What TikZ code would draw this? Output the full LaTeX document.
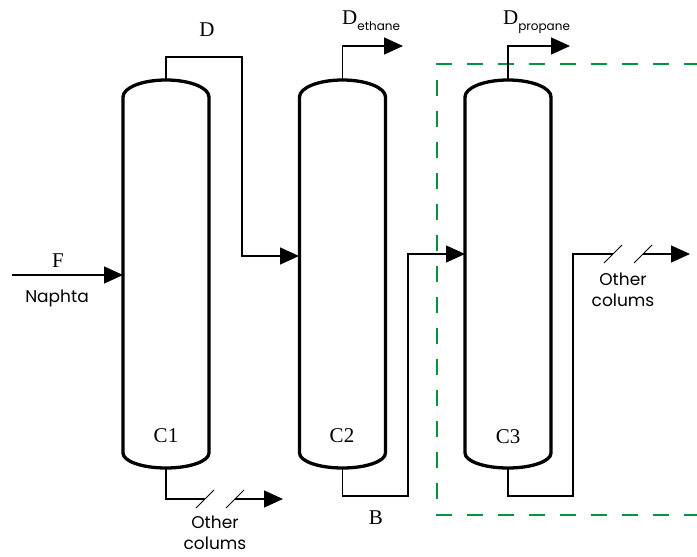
\documentclass[tikz,border=0pt]{standalone}
\usepackage{fontspec}
\setmainfont{Liberation Serif}
\newfontfamily\labelsans{Poppins}
\usetikzlibrary{arrows.meta,calc}

\definecolor{boxgreen}{RGB}{0,148,62}

\tikzset{
  column/.style={line width=3.3pt, line join=round},
  pipe/.style={line width=1.4pt},
  flow/.style={pipe, -{Triangle[length=19pt,width=17pt]}},
  breakmark/.style={line width=1pt},
  seriflabel/.style={font=\fontsize{21}{23}\selectfont, inner sep=0pt},
  sanslabel/.style={font=\labelsans\fontsize{17}{21}\selectfont, inner sep=0pt, align=center},
  boundary/.style={draw=boxgreen, line width=2.3pt, dash pattern=on 16pt off 15pt},
}

% distillation column: name, centre x
\newcommand\distcolumn[2]{%
  \draw[column] (#2-43,453) -- (#2-43,97)
    arc[start angle=180, end angle=0, x radius=43pt, y radius=17pt]
    -- (#2+43,453)
    arc[start angle=0, end angle=-180, x radius=43pt, y radius=15pt] -- cycle;
  \coordinate (#1top) at (#2,80);
  \coordinate (#1bot) at (#2,468);
}

\begin{document}
\begin{tikzpicture}[x=1pt, y=-1pt]
  \useasboundingbox (0,0) rectangle (697,557);

  % the three columns
  \distcolumn{c1}{166}
  \distcolumn{c2}{342.5}
  \distcolumn{c3}{508}

  % feed and outlet points
  \coordinate (fin)    at (12,275);
  \coordinate (c1feed) at (123,275);
  \coordinate (c2feed) at (299,256);
  \coordinate (c3feed) at (465,254);
  \coordinate (dturn)  at (242,57);
  \coordinate (deth)   at (403,46);
  \coordinate (dprop)  at (570,46);
  \coordinate (bturn)  at (408,496);
  \coordinate (c3turn) at (573,496);
  \coordinate (brk1a)  at (205,499);
  \coordinate (brk1b)  at (235,499);
  \coordinate (out1)   at (283,499);
  \coordinate (brk3a)  at (613,254);
  \coordinate (brk3b)  at (643,254);
  \coordinate (out3)   at (690,254);

  % green dashed section boundary
  \draw[boundary] (700,64) -- (437,64) -- (437,515) -- (700,515);

  % streams
  \draw[flow] (fin) -- (c1feed);
  \draw[flow] (c1top) |- (dturn) |- (c2feed);
  \draw[flow] (c2top) |- (deth);
  \draw[flow] (c3top) |- (dprop);
  \draw[flow] (c2bot) |- (bturn) |- (c3feed);
  \draw[pipe] (c1bot) |- (brk1a);
  \draw[flow] (brk1b) -- (out1);
  \draw[pipe] (c3bot) |- (c3turn) |- (brk3a);
  \draw[flow] (brk3b) -- (out3);

  % break marks on the lines to other columns
  \foreach \p in {brk1a,brk1b,brk3a,brk3b}
    \draw[breakmark] ($(\p)+(-9,9)$) -- ($(\p)+(9,-9)$);

  % labels
  \node[seriflabel] (lblD) at (207,30) {D};
  \node[seriflabel] (lblF) at (58,261) {F};
  \node[sanslabel] (lblNaphta) at (57,298) {Naphta};
  \node[seriflabel, anchor=base west] (lblDeth) at (342,24)
    {D\raisebox{-6pt}{\labelsans\fontsize{12}{12}\selectfont ethane}};
  \node[seriflabel, anchor=base west] (lblDprop) at (503,24)
    {D\raisebox{-6pt}{\labelsans\fontsize{12}{12}\selectfont propane}};
  \node[seriflabel] (lblC1) at (166,436) {C1};
  \node[seriflabel] (lblC2) at (342,436) {C2};
  \node[seriflabel] (lblC3) at (508,437) {C3};
  \node[seriflabel] (lblB) at (376,518) {B};
  \node[sanslabel] (lblOther1) at (215,533) {Other\\colums};
  \node[sanslabel] (lblOther3) at (623,290) {Other\\colums};
\end{tikzpicture}
\end{document}
